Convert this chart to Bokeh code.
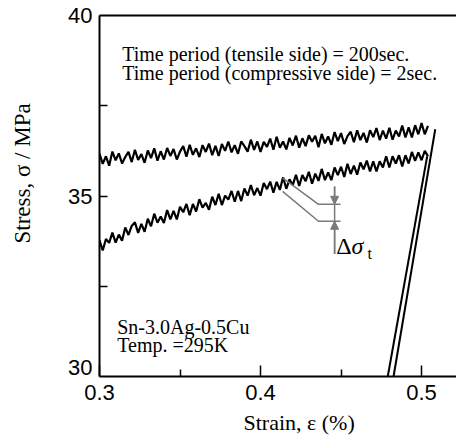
import numpy as np
from bokeh.plotting import figure
from bokeh.models import (Range1d, FixedTicker, LinearAxis, Label, Arrow, NormalHead,
                          Title, CustomJSTickFormatter)
from bokeh.embed import file_html
from bokeh.resources import INLINE

# ---------------- data ----------------
strain_start = 0.300
strain_step = 0.002

upper_stress = [
    36.17, 35.89, 36.10, 35.84, 36.23, 35.99, 36.18, 35.90, 36.08, 36.22,
    35.94, 36.28, 36.00, 36.16, 35.92, 36.26, 36.05, 36.32, 35.98, 36.24,
    36.01, 36.33, 36.11, 36.30, 36.01, 36.23, 36.38, 36.09, 36.42, 36.14,
    36.32, 36.08, 36.41, 36.22, 36.45, 36.13, 36.39, 36.11, 36.44, 36.25,
    36.51, 36.21, 36.41, 36.17, 36.51, 36.38, 36.23, 36.56, 36.28, 36.51,
    36.22, 36.50, 36.36, 36.59, 36.28, 36.64, 36.34, 36.51, 36.29, 36.61,
    36.40, 36.67, 36.34, 36.60, 36.38, 36.68, 36.50, 36.67, 36.35, 36.72,
    36.46, 36.65, 36.42, 36.77, 36.52, 36.74, 36.44, 36.66, 36.78, 36.49,
    36.82, 36.55, 36.75, 36.48, 36.82, 36.63, 36.88, 36.55, 36.81, 36.59,
    36.89, 36.56, 36.81, 36.65, 36.95, 36.62, 36.90, 36.62, 36.96, 36.71,
    37.02, 36.71, 36.94,
]

lower_stress = [
    33.77, 33.49, 33.81, 33.70, 33.99, 33.71, 33.93, 33.76, 34.13, 33.92,
    34.17, 34.27, 33.98, 34.23, 34.01, 34.37, 34.16, 34.51, 34.26, 34.43,
    34.25, 34.61, 34.35, 34.59, 34.35, 34.70, 34.55, 34.78, 34.47, 34.78,
    34.57, 34.91, 34.68, 34.81, 34.62, 34.98, 34.75, 35.06, 34.75, 35.01,
    34.90, 35.14, 34.84, 35.14, 34.86, 35.21, 35.01, 35.30, 35.02, 35.22,
    35.01, 35.36, 35.19, 35.40, 35.09, 35.39, 35.17, 35.52, 35.20, 35.46,
    35.30, 35.59, 35.28, 35.58, 35.41, 35.67, 35.34, 35.62, 35.42, 35.75,
    35.44, 35.65, 35.44, 35.79, 35.58, 35.81, 35.53, 35.89, 35.61, 35.84,
    35.59, 35.93, 35.74, 35.98, 35.68, 35.96, 35.68, 35.96, 35.79, 36.10,
    35.79, 36.10, 35.90, 36.13, 35.82, 36.13, 35.90, 36.22, 35.97, 36.21,
    35.99, 36.25, 36.10,
]

# unloading branches (strain, stress)
unload_a_strain = [0.5085, 0.4826]
unload_a_stress = [36.85, 30.0]
unload_b_strain = [0.5035, 0.4790]
unload_b_stress = [36.10, 30.0]

# delta sigma annotation (strain, stress)
lead1_strain = [0.4137, 0.4360, 0.4497]
lead1_stress = [35.50, 34.77, 34.77]
lead2_strain = [0.4137, 0.4360, 0.4497]
lead2_stress = [35.13, 34.30, 34.30]
vline_strain = [0.4460, 0.4460]
vline_stress = [35.26, 33.39]

x_ticks = [0.3, 0.4, 0.5]
x_minor = [0.35, 0.45]
y_label_ticks = [30.25, 35, 40]      # "30" sits slightly above its tick
y_tick_marks = [32.5, 35, 37.5]

upper_strain = strain_start + strain_step * np.arange(len(upper_stress))
lower_strain = strain_start + strain_step * np.arange(len(lower_stress))

SERIF = "Liberation Serif"
SANS = "Liberation Sans"
GRAY = "#7a7a7a"

p = figure(width=456, height=439, output_backend="svg", toolbar_location=None,
           x_range=Range1d(0.3, 0.5217), y_range=Range1d(30, 40),
           min_border_left=99, min_border_right=0, min_border_top=15,
           min_border_bottom=61, background_fill_color="white",
           border_fill_color="white")
p.outline_line_color = None
p.grid.visible = False

for ax in (p.xaxis[0], p.yaxis[0]):
    ax.axis_line_width = 2
    ax.axis_line_color = "black"
    ax.major_tick_line_width = 1.5
    ax.minor_tick_line_width = 1.5
    ax.major_tick_out = 0
    ax.minor_tick_out = 0
    ax.major_label_text_font = SANS
    ax.major_label_text_font_size = "22px"
    ax.major_label_text_color = "black"

p.xaxis[0].ticker = FixedTicker(ticks=x_ticks, minor_ticks=x_minor)
p.xaxis[0].major_tick_in = 11
p.xaxis[0].minor_tick_in = 7
p.xaxis[0].major_label_standoff = 8

yax = p.yaxis[0]
yax.ticker = FixedTicker(ticks=y_label_ticks, minor_ticks=y_tick_marks)
yax.formatter = CustomJSTickFormatter(code="return String(Math.round(tick));")
yax.major_tick_line_color = None
yax.major_tick_in = 0
yax.minor_tick_in = 8
yax.major_label_standoff = 7

top = LinearAxis(ticker=FixedTicker(ticks=[]), axis_line_width=2,
                 axis_line_color="black", major_tick_in=0, major_tick_out=0,
                 minor_tick_in=0, minor_tick_out=0)
p.add_layout(top, "above")

# spacer between the y tick labels and the y title
spacer = LinearAxis(ticker=FixedTicker(ticks=[]), axis_line_color=None,
                    major_tick_in=0, major_tick_out=0, minor_tick_in=0,
                    minor_tick_out=0, axis_label=" ", axis_label_standoff=6,
                    axis_label_text_font_size="16px")
p.add_layout(spacer, "left")

# axis titles
xt = Title(text="Strain, ε (%)", align="left", offset=144,
           text_font=SERIF, text_font_size="22px", text_font_style="normal",
           text_color="black")
p.add_layout(xt, "below")
yt = Title(text="Stress, σ / MPa", align="left", offset=133,
           text_font=SERIF, text_font_size="23px", text_font_style="normal",
           text_color="black")
p.add_layout(yt, "left")

# curves
p.line(upper_strain, upper_stress, line_color="black", line_width=2.2)
p.line(lower_strain, lower_stress, line_color="black", line_width=2.2)
p.line(unload_a_strain, unload_a_stress, line_color="black", line_width=2)
p.line(unload_b_strain, unload_b_stress, line_color="black", line_width=2)

# annotation
p.line(lead1_strain, lead1_stress, line_color=GRAY, line_width=1.5)
p.line(lead2_strain, lead2_stress, line_color=GRAY, line_width=1.5)
p.line(vline_strain, vline_stress, line_color=GRAY, line_width=1.5)
p.add_layout(Arrow(end=NormalHead(size=8, fill_color=GRAY, line_color=GRAY),
                   x_start=0.446, y_start=35.26, x_end=0.446, y_end=34.77,
                   line_color=GRAY, line_width=1.5))
p.add_layout(Arrow(end=NormalHead(size=8, fill_color=GRAY, line_color=GRAY),
                   x_start=0.446, y_start=33.39, x_end=0.446, y_end=34.30,
                   line_color=GRAY, line_width=1.5))

def lab(x, y, text, size, font=SERIF, style="normal"):
    p.add_layout(Label(x=x, y=y, text=text, text_font=font,
                       text_font_size=size, text_font_style=style,
                       text_align="left", text_baseline="alphabetic",
                       text_color="black"))

lab(0.4470, 33.62, "Δ", "24px")
lab(0.4565, 33.62, "σ", "24px", style="italic")
lab(0.4665, 33.40, "t", "16px")

lab(0.3141, 38.945, "Time period (tensile side) = 200sec.", "20px")
lab(0.3141, 38.41, "Time period (compressive side) = 2sec.", "20px")
lab(0.3110, 31.38, "Sn-3.0Ag-0.5Cu", "20px")
lab(0.3110, 30.86, "Temp. =295K", "20px")

open("out.html", "w").write(file_html(p, INLINE))
